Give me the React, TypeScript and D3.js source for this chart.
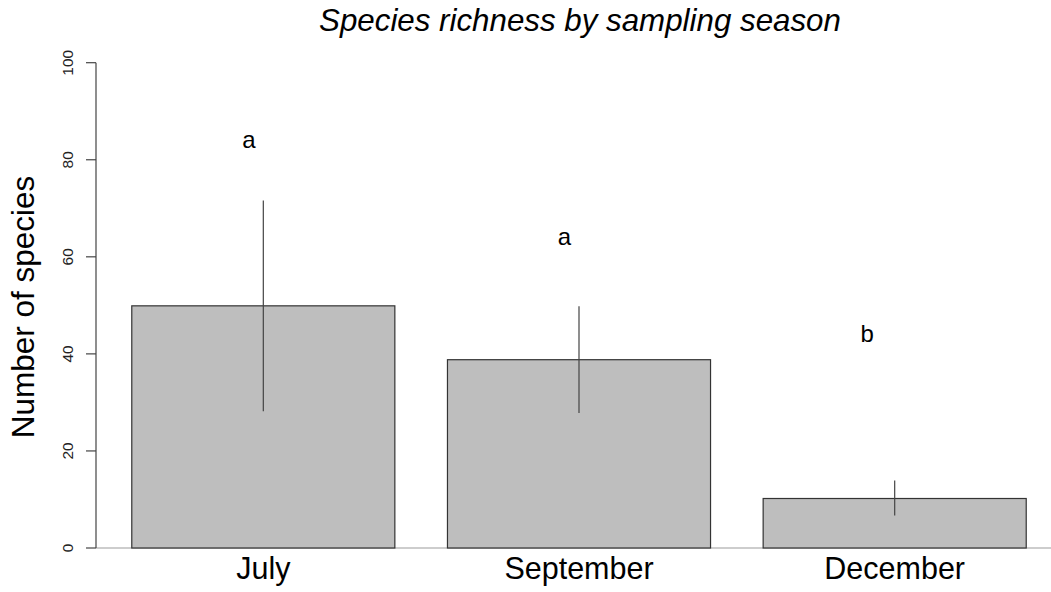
import React from "react";
import * as d3 from "d3";

const categories = ["July", "September", "December"];
const means = [49.9, 38.8, 10.2];
const lowerErr = [28.2, 27.8, 6.7];
const upperErr = [71.6, 49.8, 13.9];
const letters = ["a", "a", "b"];
const letterX = [0.645, 1.845, 2.995];
const letterY = [84, 64, 44];
const yTicks = [0, 20, 40, 60, 80, 100];

const W = 1051;
const H = 592;
const FONT = "'Liberation Sans', Arial, Helvetica, sans-serif";

export default function App() {
  const barWidth = 1;
  const space = 0.2;
  const lefts = categories.map((_, i) => space + i * (barWidth + space));
  const x = d3.scaleLinear().domain([0.064, 3.736]).range([96, 1062]);
  const y = d3.scaleLinear().domain([0, 100]).range([548, 62.7]);

  return (
    <div style={{ position: "absolute", left: 0, top: 0 }}>
      <svg width={W} height={H} style={{ display: "block", background: "#fff" }}>
        {/* baseline */}
        <line x1={x(0.064)} x2={W} y1={y(0)} y2={y(0)} stroke="#bdbdbd" strokeWidth={1.5} />
        {/* bars */}
        {categories.map((c, i) => (
          <rect
            key={c}
            x={x(lefts[i])}
            y={y(means[i])}
            width={x(lefts[i] + barWidth) - x(lefts[i])}
            height={y(0) - y(means[i])}
            fill="#bebebe"
            stroke="#333"
            strokeWidth={1.2}
          />
        ))}
        {/* error bars */}
        {categories.map((c, i) => {
          const cx = x(lefts[i] + barWidth / 2);
          return (
            <line
              key={"e" + c}
              x1={cx}
              x2={cx}
              y1={y(lowerErr[i])}
              y2={y(upperErr[i])}
              stroke="#444"
              strokeWidth={1.2}
            />
          );
        })}
        {/* letters */}
        {letters.map((l, i) => (
          <text
            key={"l" + i}
            x={x(letterX[i])}
            y={y(letterY[i])}
            dy="0.3em"
            textAnchor="middle"
            fontFamily={FONT}
            fontSize={24}
            fill="#000"
          >
            {l}
          </text>
        ))}
        {/* y axis */}
        <line x1={x(0.064)} x2={x(0.064)} y1={y(0)} y2={y(100)} stroke="#444" strokeWidth={1.2} />
        {yTicks.map((t) => (
          <g key={"t" + t}>
            <line x1={x(0.064) - 10} x2={x(0.064)} y1={y(t)} y2={y(t)} stroke="#444" strokeWidth={1.2} />
            <text
              transform={`translate(72.5,${y(t)}) rotate(-90)`}
              textAnchor="middle"
              fontFamily={FONT}
              fontSize={15.5}
              fill="#222"
            >
              {t}
            </text>
          </g>
        ))}
        {/* x labels */}
        {categories.map((c, i) => (
          <text
            key={"x" + c}
            x={x(lefts[i] + barWidth / 2)}
            y={578.5}
            textAnchor="middle"
            fontFamily={FONT}
            fontSize={30.5}
            fill="#000"
          >
            {c}
          </text>
        ))}
        {/* y label */}
        <text
          transform={`translate(33.5,307) rotate(-90)`}
          textAnchor="middle"
          fontFamily={FONT}
          fontSize={31.5}
          fill="#000"
        >
          Number of species
        </text>
        {/* title */}
        <text
          x={580}
          y={30.5}
          textAnchor="middle"
          fontFamily={FONT}
          fontSize={31.3}
          fontStyle="italic"
          fill="#000"
        >
          Species richness by sampling season
        </text>
      </svg>
    </div>
  );
}
